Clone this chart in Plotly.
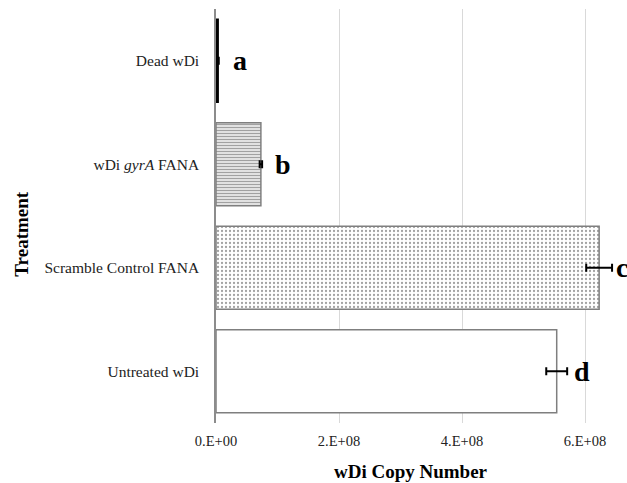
import plotly.graph_objects as go

categories = ["Dead wDi", "wDi <i>gyrA</i> FANA", "Scramble Control FANA", "Untreated wDi"]
values = [3.5e6, 7.3e7, 6.23e8, 5.54e8]
errors = [1.0e6, 2.0e6, 2.1e7, 1.7e7]
letters = ["a", "b", "c", "d"]
letter_shift = [12, 11, 2, 5]
xtick_vals = [0, 2e8, 4e8, 6e8]
xtick_text = ["0.E+00", "2.E+08", "4.E+08", "6.E+08"]

fill_colors = ["black", "white", "white", "white"]
line_colors = ["black", "#7f7f7f", "#7f7f7f", "#7f7f7f"]
shapes = ["", "-", ".", ""]
fg = ["black", "#555555", "#c4c4c4", "white"]
pat_size = [4, 3, 4, 4]
solid = [0.3, 0.55, 0.25, 0.3]

fig = go.Figure()
fig.add_trace(go.Bar(
    y=categories, x=values, orientation="h", width=0.8,
    marker=dict(color=fill_colors, line=dict(color=line_colors, width=1.5),
                pattern=dict(shape=shapes, fgcolor=fg, bgcolor="white", size=pat_size, solidity=solid)),
    error_x=dict(type="data", array=errors, color="black", thickness=2, width=4),
    showlegend=False,
))

for cat, v, e, t, s in zip(categories, values, errors, letters, letter_shift):
    fig.add_annotation(x=v + e, y=cat, xref="x", yref="y", text=f"<b>{t}</b>",
                       showarrow=False, xanchor="left", yanchor="middle", xshift=s,
                       font=dict(family="Liberation Serif", size=28, color="black"))

fig.add_annotation(x=0.4745, y=-0.118, xref="paper", yref="paper", text="<b>wDi Copy Number</b>",
                   showarrow=False, xanchor="center", yanchor="middle",
                   font=dict(family="Liberation Serif", size=19, color="black"))
fig.add_annotation(x=-0.472, y=0.455, xref="paper", yref="paper", text="<b>Treatment</b>",
                   showarrow=False, xanchor="center", yanchor="middle", textangle=-90,
                   font=dict(family="Liberation Serif", size=19, color="black"))

fig.update_layout(
    width=627, height=483,
    margin=dict(l=216, r=0, t=9, b=60),
    paper_bgcolor="white", plot_bgcolor="white",
    font=dict(family="Liberation Serif", color="#222222"),
    bargap=0.2,
)
fig.update_xaxes(range=[0, 6.683e8], tickvals=xtick_vals, ticktext=xtick_text,
                 showgrid=True, gridcolor="#d9d9d9", gridwidth=1, zeroline=False,
                 showline=False, ticks="", ticklabelstandoff=7,
                 tickfont=dict(family="Liberation Serif", size=14.5, color="#222222"))
fig.update_yaxes(categoryorder="array", categoryarray=categories, autorange="reversed",
                 showline=True, linecolor="#8c8c8c", linewidth=1.5, showgrid=False,
                 ticks="", ticklabelstandoff=12,
                 tickfont=dict(family="Liberation Serif", size=15.5, color="#222222"))

fig.write_html("out.html")
